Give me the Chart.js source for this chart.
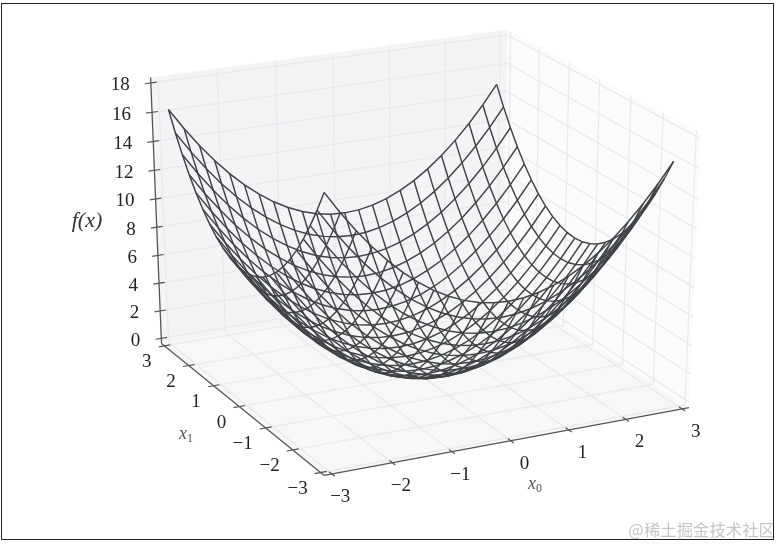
<!DOCTYPE html>
<html>
<head>
<meta charset="utf-8">
<script src="https://cdn.jsdelivr.net/npm/chart.js@4"></script>
<style>
html, body { margin: 0; padding: 0; background: #fff; }
#frame { position: absolute; left: 1px; top: 3px; width: 771px; height: 535px; border: 1px solid #222; }
canvas { position: absolute; left: 0; top: 0; filter: blur(0.35px); }
</style>
</head>
<body>
<canvas id="surface-chart" width="779" height="544"></canvas>
<div id="frame"></div>
<script>
const x0_grid = [-3,-2.75,-2.5,-2.25,-2,-1.75,-1.5,-1.25,-1,-0.75,-0.5,-0.25,0,0.25,0.5,0.75,1,1.25,1.5,1.75,2,2.25,2.5,2.75];
const x1_grid = [-3,-2.75,-2.5,-2.25,-2,-1.75,-1.5,-1.25,-1,-0.75,-0.5,-0.25,0,0.25,0.5,0.75,1,1.25,1.5,1.75,2,2.25,2.5,2.75];
// one row per x0, one column per x1
const f_values = [
    [18,16.56,15.25,14.06,13,12.06,11.25,10.56,10,9.56,9.25,9.06,9,9.06,9.25,9.56,10,10.56,11.25,12.06,13,14.06,15.25,16.56],
    [16.56,15.12,13.81,12.62,11.56,10.62,9.81,9.12,8.56,8.12,7.81,7.62,7.56,7.62,7.81,8.12,8.56,9.12,9.81,10.62,11.56,12.62,13.81,15.12],
    [15.25,13.81,12.5,11.31,10.25,9.31,8.5,7.81,7.25,6.81,6.5,6.31,6.25,6.31,6.5,6.81,7.25,7.81,8.5,9.31,10.25,11.31,12.5,13.81],
    [14.06,12.62,11.31,10.12,9.06,8.12,7.31,6.62,6.06,5.62,5.31,5.12,5.06,5.12,5.31,5.62,6.06,6.62,7.31,8.12,9.06,10.12,11.31,12.62],
    [13,11.56,10.25,9.06,8,7.06,6.25,5.56,5,4.56,4.25,4.06,4,4.06,4.25,4.56,5,5.56,6.25,7.06,8,9.06,10.25,11.56],
    [12.06,10.62,9.31,8.12,7.06,6.12,5.31,4.62,4.06,3.62,3.31,3.12,3.06,3.12,3.31,3.62,4.06,4.62,5.31,6.12,7.06,8.12,9.31,10.62],
    [11.25,9.81,8.5,7.31,6.25,5.31,4.5,3.81,3.25,2.81,2.5,2.31,2.25,2.31,2.5,2.81,3.25,3.81,4.5,5.31,6.25,7.31,8.5,9.81],
    [10.56,9.12,7.81,6.62,5.56,4.62,3.81,3.12,2.56,2.12,1.81,1.62,1.56,1.62,1.81,2.12,2.56,3.12,3.81,4.62,5.56,6.62,7.81,9.12],
    [10,8.56,7.25,6.06,5,4.06,3.25,2.56,2,1.56,1.25,1.06,1,1.06,1.25,1.56,2,2.56,3.25,4.06,5,6.06,7.25,8.56],
    [9.56,8.12,6.81,5.62,4.56,3.62,2.81,2.12,1.56,1.12,0.81,0.62,0.56,0.62,0.81,1.12,1.56,2.12,2.81,3.62,4.56,5.62,6.81,8.12],
    [9.25,7.81,6.5,5.31,4.25,3.31,2.5,1.81,1.25,0.81,0.5,0.31,0.25,0.31,0.5,0.81,1.25,1.81,2.5,3.31,4.25,5.31,6.5,7.81],
    [9.06,7.62,6.31,5.12,4.06,3.12,2.31,1.62,1.06,0.62,0.31,0.12,0.06,0.12,0.31,0.62,1.06,1.62,2.31,3.12,4.06,5.12,6.31,7.62],
    [9,7.56,6.25,5.06,4,3.06,2.25,1.56,1,0.56,0.25,0.06,0,0.06,0.25,0.56,1,1.56,2.25,3.06,4,5.06,6.25,7.56],
    [9.06,7.62,6.31,5.12,4.06,3.12,2.31,1.62,1.06,0.62,0.31,0.12,0.06,0.12,0.31,0.62,1.06,1.62,2.31,3.12,4.06,5.12,6.31,7.62],
    [9.25,7.81,6.5,5.31,4.25,3.31,2.5,1.81,1.25,0.81,0.5,0.31,0.25,0.31,0.5,0.81,1.25,1.81,2.5,3.31,4.25,5.31,6.5,7.81],
    [9.56,8.12,6.81,5.62,4.56,3.62,2.81,2.12,1.56,1.12,0.81,0.62,0.56,0.62,0.81,1.12,1.56,2.12,2.81,3.62,4.56,5.62,6.81,8.12],
    [10,8.56,7.25,6.06,5,4.06,3.25,2.56,2,1.56,1.25,1.06,1,1.06,1.25,1.56,2,2.56,3.25,4.06,5,6.06,7.25,8.56],
    [10.56,9.12,7.81,6.62,5.56,4.62,3.81,3.12,2.56,2.12,1.81,1.62,1.56,1.62,1.81,2.12,2.56,3.12,3.81,4.62,5.56,6.62,7.81,9.12],
    [11.25,9.81,8.5,7.31,6.25,5.31,4.5,3.81,3.25,2.81,2.5,2.31,2.25,2.31,2.5,2.81,3.25,3.81,4.5,5.31,6.25,7.31,8.5,9.81],
    [12.06,10.62,9.31,8.12,7.06,6.12,5.31,4.62,4.06,3.62,3.31,3.12,3.06,3.12,3.31,3.62,4.06,4.62,5.31,6.12,7.06,8.12,9.31,10.62],
    [13,11.56,10.25,9.06,8,7.06,6.25,5.56,5,4.56,4.25,4.06,4,4.06,4.25,4.56,5,5.56,6.25,7.06,8,9.06,10.25,11.56],
    [14.06,12.62,11.31,10.12,9.06,8.12,7.31,6.62,6.06,5.62,5.31,5.12,5.06,5.12,5.31,5.62,6.06,6.62,7.31,8.12,9.06,10.12,11.31,12.62],
    [15.25,13.81,12.5,11.31,10.25,9.31,8.5,7.81,7.25,6.81,6.5,6.31,6.25,6.31,6.5,6.81,7.25,7.81,8.5,9.31,10.25,11.31,12.5,13.81],
    [16.56,15.12,13.81,12.62,11.56,10.62,9.81,9.12,8.56,8.12,7.81,7.62,7.56,7.62,7.81,8.12,8.56,9.12,9.81,10.62,11.56,12.62,13.81,15.12],
];
const x0_ticks = [-3,-2,-1,0,1,2,3];
const x1_ticks = [-3,-2,-1,0,1,2,3];
const z_ticks = [0,2,4,6,8,10,12,14,16,18];
// box limits (ticks range plus the pane margin)
const x_lo = -3.125, x_hi = 3.125, z_lo = -0.375, z_hi = 18.375;

// camera fitted against the tick positions in the picture
const cam_u = [59.49524, -22.17075, -0.9228387, 419.8319];
const cam_v = [-7.297795, -15.08407, -14.65974, 369.6253];
const cam_w = [0.00704595, 0.0136421, -0.00218351, 1];

function project(x, y, z) {
    var w = cam_w[0]*x + cam_w[1]*y + cam_w[2]*z + cam_w[3];
    return {
        x: (cam_u[0]*x + cam_u[1]*y + cam_u[2]*z + cam_u[3]) / w,
        y: (cam_v[0]*x + cam_v[1]*y + cam_v[2]*z + cam_v[3]) / w
    };
}

function lineSet(points, color, width) {
    return { data: points.map(function (p) { return project(p[0], p[1], p[2]); }), showLine: true, borderColor: color, borderWidth: width, pointRadius: 0, fill: false, tension: 0 };
}
function paneSet(points, color) {
    var set = lineSet(points.concat([points[0]]), 'rgba(0,0,0,0)', 0);
    set.fill = 'shape';
    set.backgroundColor = color;
    return set;
}

const layers = [];
// panes
layers.push(paneSet([[x_lo,x_hi,z_lo],[x_hi,x_hi,z_lo],[x_hi,x_hi,z_hi],[x_lo,x_hi,z_hi]], '#f2f4f6'));
layers.push(paneSet([[x_hi,x_lo,z_lo],[x_hi,x_hi,z_lo],[x_hi,x_hi,z_hi],[x_hi,x_lo,z_hi]], '#fbfbfb'));
layers.push(paneSet([[x_lo,x_lo,z_lo],[x_hi,x_lo,z_lo],[x_hi,x_hi,z_lo],[x_lo,x_hi,z_lo]], '#f7f7f7'));
// grid lines
const grid_color = '#e8e9eb';
x0_ticks.forEach(function (t) {
    layers.push(lineSet([[t,x_lo,z_lo],[t,x_hi,z_lo],[t,x_hi,z_hi]], grid_color, 1.2));
});
x1_ticks.forEach(function (t) {
    layers.push(lineSet([[x_lo,t,z_lo],[x_hi,t,z_lo],[x_hi,t,z_hi]], grid_color, 1.2));
});
z_ticks.forEach(function (t) {
    layers.push(lineSet([[x_lo,x_hi,t],[x_hi,x_hi,t],[x_hi,x_lo,t]], grid_color, 1.2));
});
// axes and tick marks
const axis_color = '#555555';
layers.push(lineSet([[x_lo,x_lo,z_lo],[x_hi,x_lo,z_lo]], axis_color, 1.3));
layers.push(lineSet([[x_lo,x_lo,z_lo],[x_lo,x_hi,z_lo]], axis_color, 1.3));
layers.push(lineSet([[x_lo,x_hi,z_lo],[x_lo,x_hi,z_hi]], axis_color, 1.3));
x0_ticks.forEach(function (t) {
    layers.push(lineSet([[t,x_lo-0.1,z_lo],[t,x_lo+0.1,z_lo]], axis_color, 1.2));
});
x1_ticks.forEach(function (t) {
    layers.push(lineSet([[x_lo-0.1,t,z_lo],[x_lo+0.1,t,z_lo]], axis_color, 1.2));
});
z_ticks.forEach(function (t) {
    layers.push(lineSet([[x_lo-0.1,x_hi,t],[x_lo+0.1,x_hi,t]], axis_color, 1.2));
});
// wireframe
const wire_color = '#3f4345';
x0_grid.forEach(function (x0, i) {
    layers.push(lineSet(x1_grid.map(function (x1, j) { return [x0, x1, f_values[i][j]]; }), wire_color, 1.45));
});
x1_grid.forEach(function (x1, j) {
    layers.push(lineSet(x0_grid.map(function (x0, i) { return [x0, x1, f_values[i][j]]; }), wire_color, 1.45));
});

function tickLabel(v) { return v < 0 ? '\u2212' + Math.abs(v) : String(v); }

const textPlugin = {
    id: 'axisText',
    afterDraw: function (chart) {
        var ctx = chart.ctx, sx = chart.scales.x, sy = chart.scales.y;
        function put(p, dx, dy, text, align) {
            ctx.textAlign = align;
            ctx.fillText(text, sx.getPixelForValue(p.x) + dx, sy.getPixelForValue(p.y) + dy);
        }
        ctx.save();
        ctx.textBaseline = 'middle';
        ctx.fillStyle = '#222';
        ctx.font = '19px "Liberation Serif"';
        z_ticks.forEach(function (t) { put(project(x_lo, x_hi, t), -21, 2.5, tickLabel(t), 'right'); });
        x1_ticks.forEach(function (t) { put(project(x_lo, t, z_lo), -13, 16, tickLabel(t), 'right'); });
        x0_ticks.forEach(function (t) { put(project(t, x_lo, z_lo), 18.5, 23, tickLabel(t), 'right'); });
        ctx.font = 'italic 22px "Liberation Serif"';
        ctx.textAlign = 'center';
        ctx.fillStyle = '#333';
        ctx.fillText('f(x)', 87, 221);
        ctx.fillStyle = '#555';
        ctx.font = 'italic 18px "Liberation Serif"';
        ctx.textAlign = 'right';
        ctx.fillText('x', 187, 434);
        ctx.fillText('x', 536, 484);
        ctx.font = '12px "Liberation Serif"';
        ctx.textAlign = 'left';
        ctx.fillText('1', 187, 439);
        ctx.fillText('0', 536, 489);
        ctx.fillStyle = '#c6c6c6';
        ctx.font = '16.4px "Noto Sans CJK SC"';
        ctx.textAlign = 'right';
        ctx.fillText('@稀土掘金技术社区', 775, 530);
        ctx.restore();
    }
};

new Chart(document.getElementById('surface-chart'), {
    type: 'scatter',
    data: { datasets: layers.slice().reverse() },
    options: {
        responsive: false,
        animation: false,
        layout: { padding: 0 },
        scales: {
            x: { type: 'linear', min: 0, max: 779, display: false },
            y: { type: 'linear', min: 0, max: 544, reverse: true, display: false },
        },
        plugins: { legend: { display: false }, tooltip: { enabled: false } },
    },
    plugins: [textPlugin],
});
</script>
</body>
</html>
